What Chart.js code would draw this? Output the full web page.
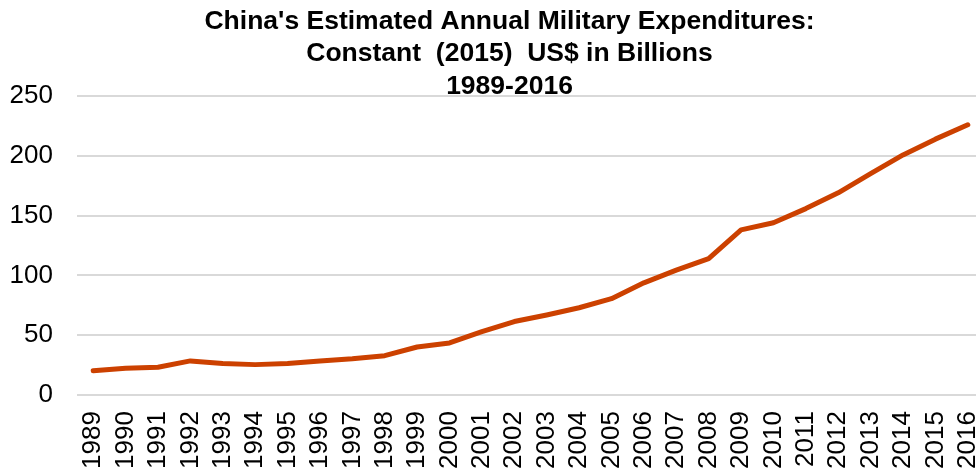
<!DOCTYPE html>
<html>
<head>
<meta charset="utf-8">
<script src="https://cdn.jsdelivr.net/npm/chart.js@4.4.1/dist/chart.umd.min.js"></script>
<style>
  html, body { margin: 0; padding: 0; background: #ffffff; overflow: hidden; }
  #wrap { position: relative; width: 1015px; height: 485px; }
</style>
</head>
<body>
<div id="wrap"><canvas id="chart"></canvas></div>
<script>
// Fiscal years shown along the bottom axis
const years = [
  '1989','1990','1991','1992','1993','1994','1995','1996','1997','1998',
  '1999','2000','2001','2002','2003','2004','2005','2006','2007','2008',
  '2009','2010','2011','2012','2013','2014','2015','2016'
];

// Estimated spending, constant 2015 US$ billions
const spending = [
  20.3, 22.4, 23.3, 28.6, 26.4, 25.5, 26.4, 28.5, 30.4, 33.0,
  40.2, 43.6, 53.0, 61.5, 67.0, 73.0, 80.6, 93.8, 104.4, 114.0,
  138.0, 144.0, 155.8, 169.0, 185.0, 200.6, 213.8, 225.8
];

// Value axis ticks
const yTicks = [0, 50, 100, 150, 200, 250];

const titleLines = [
  "China's Estimated Annual Military Expenditures:",
  'Constant  (2015)  US$ in Billions',
  '1989-2016'
];

const FONT = "'Liberation Sans', Arial, Helvetica, sans-serif";

new Chart(document.getElementById('chart'), {
  type: 'line',
  data: {
    labels: years,
    datasets: [{
      data: spending,
      borderColor: '#CC4100',
      borderWidth: 5,
      borderJoinStyle: 'round',
      borderCapStyle: 'round',
      pointRadius: 0,
      pointHoverRadius: 0,
      tension: 0,
      fill: false
    }]
  },
  options: {
    responsive: true,
    maintainAspectRatio: false,
    animation: false,
    layout: { padding: { left: 4, right: 0, top: 0, bottom: 0 } },
    plugins: {
      legend: { display: false },
      tooltip: { enabled: false },
      title: {
        display: true,
        text: titleLines,
        color: '#000000',
        font: { family: FONT, size: 26.5, weight: 'bold', lineHeight: 1.23 },
        padding: { top: 5, bottom: -7 }
      }
    },
    scales: {
      x: {
        type: 'category',
        offset: true,
        grid: { display: false, drawTicks: false },
        border: { display: false },
        ticks: {
          color: '#000000',
          font: { family: FONT, size: 26 },
          minRotation: 90,
          maxRotation: 90,
          autoSkip: false,
          padding: 16
        }
      },
      y: {
        min: 0,
        max: 250,
        afterBuildTicks: (scale) => { scale.ticks = yTicks.map(v => ({ value: v })); },
        afterFit: (scale) => { scale.width = 73; },
        grid: { color: '#D9D9D9', lineWidth: 2, drawTicks: false },
        border: { display: false },
        ticks: {
          color: '#000000',
          font: { family: FONT, size: 26 },
          padding: 24
        }
      }
    }
  }
});
</script>
</body>
</html>
